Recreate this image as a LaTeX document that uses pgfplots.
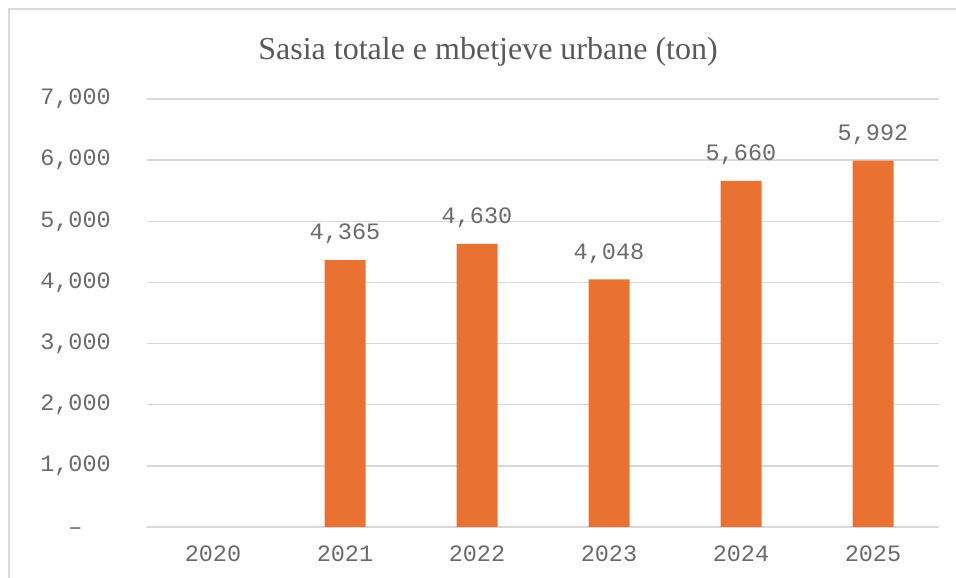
\documentclass[border=0pt]{standalone}
\usepackage{pgfplots}
\pgfplotsset{compat=1.18}
\usepackage{fontspec}
\setmainfont{Liberation Serif}
\setmonofont{Liberation Mono}
\definecolor{barorange}{HTML}{E97132}
\definecolor{gridgray}{HTML}{D9D9D9}
\definecolor{txtgray}{HTML}{595959}
\definecolor{ticklab}{HTML}{6A6A6A}
\begin{document}
\begin{tikzpicture}
\path[use as bounding box] (0pt,0pt) rectangle (956pt,578pt);
\draw[gridgray, line width=1.5pt] (9pt,0pt) -- (9pt,569pt) -- (956pt,569pt);
\node[anchor=base, text=txtgray, font=\fontsize{32}{32}\selectfont, inner sep=0pt] at (488pt,518pt) {Sasia totale e mbetjeve urbane (ton)};
\begin{axis}[
  at={(147pt,51pt)}, anchor=south west,
  scale only axis, width=792pt, height=428pt,
  xmin=-0.5, xmax=5.5, ymin=0, ymax=7000,
  axis line style={draw=none},
  ymajorgrids, grid style={gridgray, line width=1.3pt},
  major tick length=0pt,
  xtick={0,1,2,3,4,5}, xticklabels={2020,2021,2022,2023,2024,2025},
  ytick={0,1000,2000,3000,4000,5000,6000,7000},
  yticklabels={{–\phantom{00}},{1,000},{2,000},{3,000},{4,000},{5,000},{6,000},{7,000}},
  ticklabel style={font=\ttfamily\fontsize{23.5}{24}\selectfont, text=ticklab, inner sep=0pt},
  yticklabel style={anchor=east, xshift=-36pt},
  xticklabel style={anchor=north, yshift=-19pt},
  ybar, bar width=41pt,
  nodes near coords, point meta=explicit symbolic,
  nodes near coords style={font=\ttfamily\fontsize{23.5}{24}\selectfont, text=ticklab, anchor=south, inner sep=0pt, yshift=16pt},
]
\addplot[fill=barorange, draw=none] table[meta=label] {
x y label
1 4365 4,365
2 4630 4,630
3 4048 4,048
4 5660 5,660
5 5992 5,992
};
\end{axis}
\end{tikzpicture}
\end{document}
